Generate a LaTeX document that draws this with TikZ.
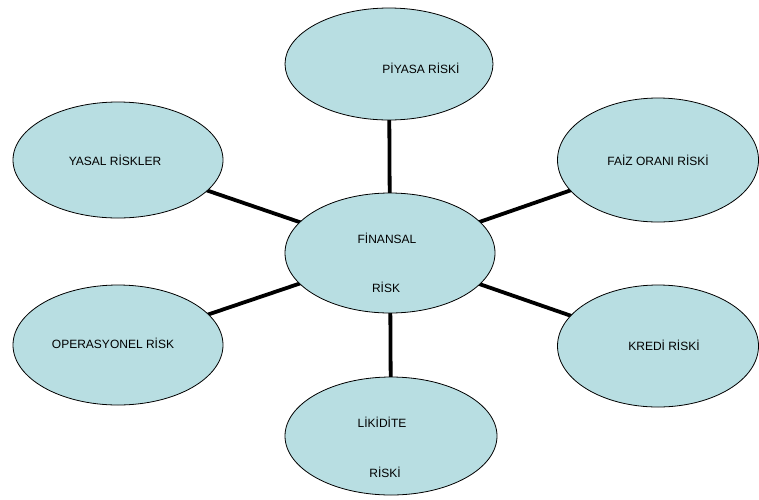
\documentclass[tikz,border=0pt]{standalone}
\usepackage{fontspec}
\setmainfont{Liberation Sans}
\usetikzlibrary{shapes.geometric,backgrounds}
\definecolor{bub}{RGB}{184,222,226}
\begin{document}
\begin{tikzpicture}[x=1pt,y=-1pt,
  bubble/.style={ellipse,draw=black,line width=0.8pt,fill=bub,inner sep=0pt},
  txt/.style={font=\fontsize{12}{14}\selectfont,inner sep=0pt},
  link/.style={line width=3.8pt,black}]
\useasboundingbox (0,0) rectangle (759,499);
\node[bubble,minimum width=208pt,minimum height=112pt] (piy) at (389,64) {};
\node[bubble,minimum width=210pt,minimum height=116pt] (yas) at (118,160) {};
\node[bubble,minimum width=201pt,minimum height=124pt] (faiz) at (658,160) {};
\node[bubble,minimum width=210pt,minimum height=120pt] (fin) at (390,253) {};
\node[bubble,minimum width=210pt,minimum height=120pt] (ops) at (118,345) {};
\node[bubble,minimum width=201pt,minimum height=122pt] (kre) at (658,346) {};
\node[bubble,minimum width=212pt,minimum height=118pt] (lik) at (391,436) {};
\node[txt] (tpiy) at (421,68) {PİYASA RİSKİ};
\node[txt] (tyas) at (115,160) {YASAL RİSKLER};
\node[txt] (tfaiz) at (658,160) {FAİZ ORANI RİSKİ};
\node[txt] (tfin1) at (387,238) {FİNANSAL};
\node[txt] (tfin2) at (386,287) {RİSK};
\node[txt] (tops) at (113,343) {OPERASYONEL RİSK};
\node[txt] (tkre) at (664,345) {KREDİ RİSKİ};
\node[txt] (tlik1) at (382,422) {LİKİDİTE};
\node[txt] (tlik2) at (385,472) {RİSKİ};
\begin{scope}[on background layer]
\draw[link] (fin.center) -- (piy.center);
\draw[link] (fin.center) -- (lik.center);
\draw[link] (fin.center) -- (yas.center);
\draw[link] (fin.center) -- (faiz.center);
\draw[link] (fin.center) -- (ops.center);
\draw[link] (fin.center) -- (kre.center);
\end{scope}
\end{tikzpicture}
\end{document}
